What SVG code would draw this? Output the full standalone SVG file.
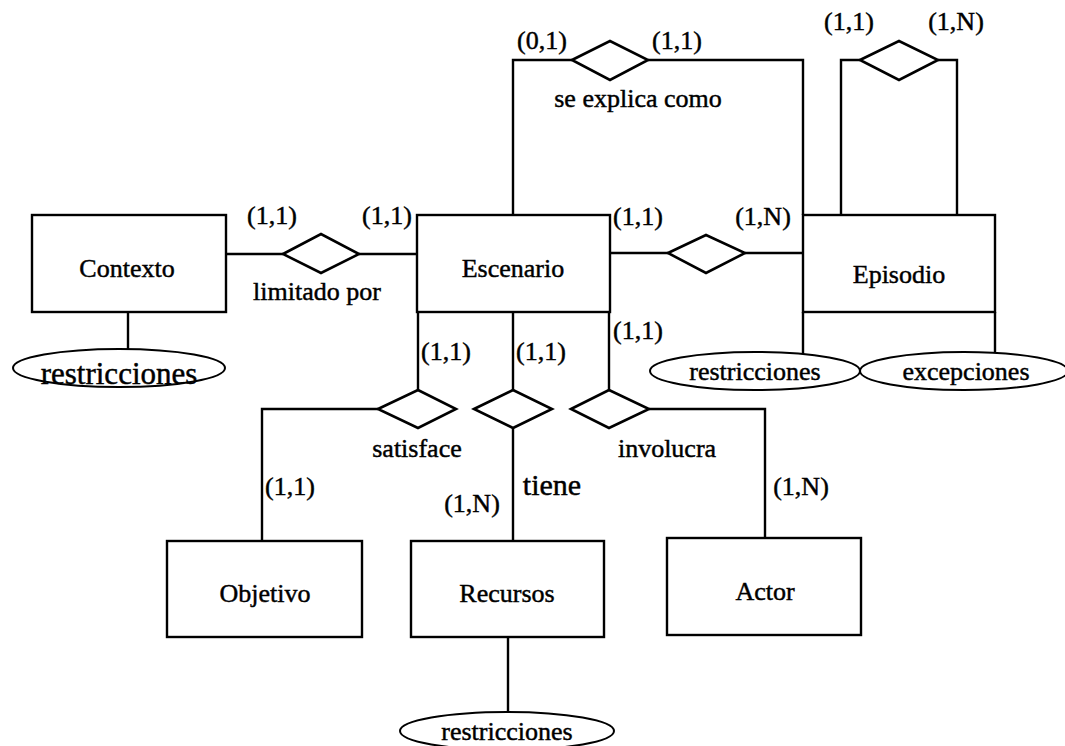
<svg xmlns="http://www.w3.org/2000/svg" width="1065" height="746" viewBox="0 0 1065 746">
  <style>
    .ent { fill: #fff; stroke: #000; stroke-width: 2.4; }
    .rel { fill: #fff; stroke: #000; stroke-width: 2.6; stroke-linejoin: miter; }
    .attr { fill: #fff; stroke: #000; stroke-width: 2; }
    .wire { fill: none; stroke: #000; stroke-width: 2.4; }
    text { font-family: "Liberation Serif", "Times New Roman", serif; font-size: 26px; fill: #000; stroke: #000; stroke-width: 0.45; text-anchor: middle; }
    .big { font-size: 31px; }
    .mid { font-size: 30px; }
  </style>
  <rect width="1065" height="746" fill="#fff"/>

  <!-- connectors -->
  <g id="connectors" class="wire">
    <!-- Contexto - limitado por - Escenario -->
    <path d="M226,254 H283 M359,254 H417"/>
    <path d="M128,312 V349"/>
    <!-- se explica como -->
    <path d="M513,215 V60 H572 M648,60 H803 V215"/>
    <!-- Escenario - Episodio -->
    <path d="M610,253 H668 M745,253 H803"/>
    <!-- Episodio self relation -->
    <path d="M841,215 V60 H860 M938,60 H957 V215"/>
    <!-- Episodio attributes -->
    <path d="M803,312 V354 M995,312 V353"/>
    <!-- satisface -->
    <path d="M418,312 V390 M378,409 H262 V541"/>
    <!-- tiene -->
    <path d="M513,312 V390 M513,428 V541"/>
    <!-- involucra -->
    <path d="M609,312 V390 M649,409 H765 V538"/>
    <!-- Recursos attribute -->
    <path d="M508,637 V712"/>
  </g>

  <!-- entities -->
  <g id="contexto">
    <rect class="ent" x="32" y="215" width="194" height="97"/>
    <text x="127" y="277">Contexto</text>
  </g>
  <g id="escenario">
    <rect class="ent" x="417" y="215" width="193" height="97"/>
    <text x="513" y="277">Escenario</text>
  </g>
  <g id="episodio">
    <rect class="ent" x="803" y="215" width="192" height="97"/>
    <text x="899" y="283">Episodio</text>
  </g>
  <g id="objetivo">
    <rect class="ent" x="167" y="541" width="195" height="96"/>
    <text x="265" y="602">Objetivo</text>
  </g>
  <g id="recursos">
    <rect class="ent" x="411" y="541" width="193" height="96"/>
    <text x="507" y="602">Recursos</text>
  </g>
  <g id="actor">
    <rect class="ent" x="667" y="538" width="194" height="97"/>
    <text x="765" y="600">Actor</text>
  </g>

  <!-- relationships -->
  <g id="limitado-por">
    <polygon class="rel" points="283,254 321,234 359,254 321,273"/>
    <text x="317" y="300">limitado por</text>
    <text x="272" y="224">(1,1)</text>
    <text x="387" y="224">(1,1)</text>
  </g>
  <g id="se-explica-como">
    <polygon class="rel" points="572,60 610,41 648,60 610,80"/>
    <text x="638" y="107">se explica como</text>
    <text x="542" y="49">(0,1)</text>
    <text x="677" y="49">(1,1)</text>
  </g>
  <g id="escenario-episodio">
    <polygon class="rel" points="668,253 706,235 745,253 706,273"/>
    <text x="638" y="225">(1,1)</text>
    <text x="763" y="225">(1,N)</text>
  </g>
  <g id="episodio-episodio">
    <polygon class="rel" points="860,60 899,41 938,60 899,80"/>
    <text x="849" y="30">(1,1)</text>
    <text x="956" y="30">(1,N)</text>
  </g>
  <g id="satisface">
    <polygon class="rel" points="378,409 418,390 456,409 418,428"/>
    <text x="417" y="457">satisface</text>
    <text x="446" y="360">(1,1)</text>
    <text x="290" y="495">(1,1)</text>
  </g>
  <g id="tiene">
    <polygon class="rel" points="474,409 513,390 552,409 513,428"/>
    <text class="mid" x="552" y="495">tiene</text>
    <text x="541" y="360">(1,1)</text>
    <text x="472" y="512">(1,N)</text>
  </g>
  <g id="involucra">
    <polygon class="rel" points="571,409 609,390 649,409 609,428"/>
    <text x="667" y="457">involucra</text>
    <text x="638" y="339">(1,1)</text>
    <text x="801" y="495">(1,N)</text>
  </g>

  <!-- attributes -->
  <g id="contexto-restricciones">
    <ellipse class="attr" cx="119" cy="368" rx="106" ry="19"/>
    <text class="big" x="119" y="384">restricciones</text>
  </g>
  <g id="episodio-restricciones">
    <ellipse class="attr" cx="755" cy="371" rx="105" ry="19"/>
    <text x="755" y="380">restricciones</text>
  </g>
  <g id="episodio-excepciones">
    <ellipse class="attr" cx="964" cy="371" rx="104" ry="19"/>
    <text x="966" y="380">excepciones</text>
  </g>
  <g id="recursos-restricciones">
    <ellipse class="attr" cx="507" cy="731" rx="107" ry="19"/>
    <text x="507" y="740">restricciones</text>
  </g>
</svg>
